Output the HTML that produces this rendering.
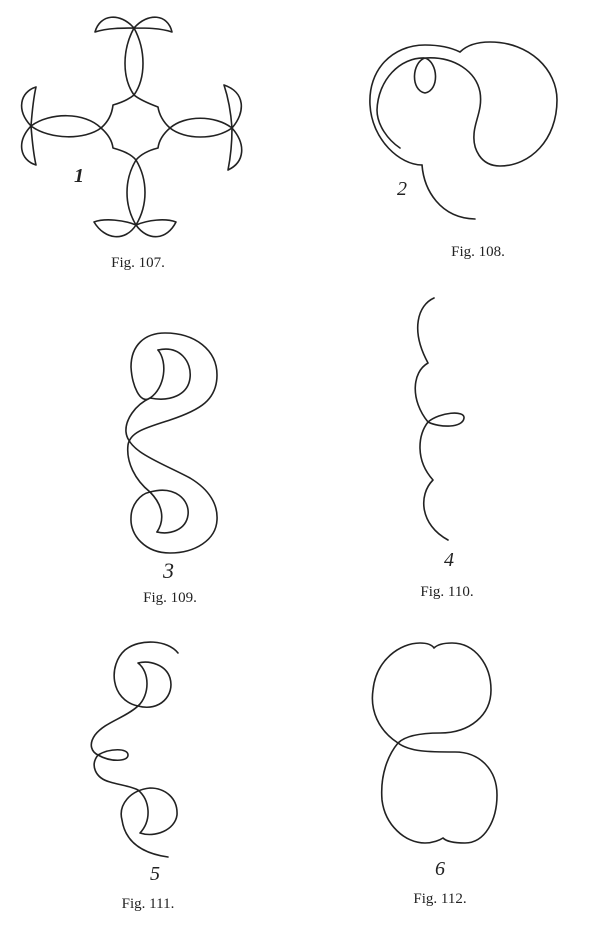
<!DOCTYPE html>
<html><head><meta charset="utf-8"><style>
html,body{margin:0;padding:0;background:#fff;}
svg{display:block;}
text{font-family:"Liberation Serif",serif;fill:#222;}
</style></head><body>
<svg width="600" height="930" viewBox="0 0 600 930" xmlns="http://www.w3.org/2000/svg">
<g fill="none" stroke="#222" stroke-width="1.6" stroke-linecap="round" stroke-linejoin="round">
<!-- Fig 107 -->
<path d="M134,28 C120,12 100,14 95,32 C108,28 122,28 134,28"/>
<path d="M134,28 C148,12 168,14 172,32 C160,28 146,28 134,28"/>
<path d="M134,28 C122,50 122,78 134,95 C146,78 146,50 134,28"/>
<path d="M136,160 C124,180 124,205 136,225 C148,205 148,180 136,160"/>
<path d="M136,225 C124,220 105,218 94,222 C105,240 125,242 136,225"/>
<path d="M136,225 C148,220 165,218 176,222 C167,240 148,242 136,225"/>
<path d="M31,126 C50,112 85,112 101,128 C85,140 50,140 31,126"/>
<path d="M31,126 C16,110 20,92 36,87 C33,100 32,113 31,126"/>
<path d="M31,126 C16,142 20,160 36,165 C33,152 32,139 31,126"/>
<path d="M170,128 C185,115 215,115 232,128 C215,140 185,140 170,128"/>
<path d="M232,128 C246,112 245,92 224,85 C229,100 231,114 232,128"/>
<path d="M232,128 C246,144 245,162 228,170 C231,155 232,140 232,128"/>
<path d="M134,95 C128,100 120,103 113,105 C112,114 108,122 101,128 C108,134 112,140 113,148 C120,150 130,153 136,160 C142,153 150,150 158,148 C159,140 163,134 170,128 C163,122 159,114 158,107 C150,104 140,100 134,95 Z"/>
<!-- Fig 108 -->
<path d="M422,165 C400,165 372,140 370,105 C368,70 392,45 425,45 C442,45 452,48 460,52 C468,44 480,42 490,42 C530,42 557,70 557,100 C557,140 530,166 500,166 C480,166 473,148 474,135 C474,122 483,110 480,92 C476,72 455,56 425,58 C412,62 410,90 425,93 C440,90 438,62 425,58 C400,57 378,80 377,110 C377,125 388,140 400,148"/>
<path d="M422,165 C424,190 440,218 475,219"/>
<!-- Fig 109 -->
<path d="M158,350 C168,362 165,388 150,398 C140,405 132,385 131,367 C131,345 145,333 165,333 C195,333 217,350 217,375 C217,400 200,410 170,420 C145,428 130,432 128,445 C126,462 135,480 150,492 C175,485 190,500 188,515 C186,530 170,535 157,532"/>
<path d="M158,350 C180,345 192,362 190,378 C188,395 170,402 150,398 C135,405 125,420 126,432 C128,452 160,462 190,478 C210,490 218,505 217,520 C216,540 195,553 170,553 C145,553 130,535 131,518 C131,505 140,494 150,492 C163,505 165,520 157,532"/>
<!-- Fig 110 -->
<path d="M434,298 C418,305 410,330 428,363 C412,372 410,400 428,422 C440,412 465,410 464,418 C463,428 440,428 428,422 C418,435 415,460 433,480 C418,495 420,525 448,540"/>
<!-- Fig 111 -->
<path d="M178,653 C168,640 140,638 125,650 C108,665 110,700 138,706 C160,712 175,695 170,678 C166,665 150,660 138,663 C150,672 150,695 138,706 C125,718 105,722 95,735 C88,745 92,752 98,755 C110,748 128,748 128,755 C128,762 110,762 98,755 C90,765 95,778 110,782 C120,785 130,786 138,790 C150,800 152,820 140,833 C155,838 175,830 177,815 C178,798 165,788 150,788 C130,790 118,805 122,820 C125,840 140,853 168,857"/>
<!-- Fig 112 -->
<path d="M398,743 C378,730 370,710 373,690 C376,660 400,643 420,643 C428,643 432,645 434,648 C438,644 445,643 452,643 C475,643 491,665 491,690 C491,715 470,733 440,733 C420,733 405,736 398,743 C388,755 380,775 382,800 C385,825 405,843 425,843 C433,843 440,840 443,838 C447,842 455,843 465,843 C485,843 497,820 497,795 C497,770 480,752 455,752 C430,752 410,752 398,743 Z"/>
</g>
<text x="74" y="182" font-size="20" font-style="italic" font-weight="bold">1</text>
<text x="397" y="195" font-size="20" font-style="italic">2</text>
<text x="163" y="578" font-size="22" font-style="italic">3</text>
<text x="444" y="566" font-size="20" font-style="italic">4</text>
<text x="150" y="880" font-size="20" font-style="italic">5</text>
<text x="435" y="875" font-size="20" font-style="italic">6</text>
<text x="138" y="267" font-size="15" text-anchor="middle">Fig. 107.</text>
<text x="478" y="256" font-size="15" text-anchor="middle">Fig. 108.</text>
<text x="170" y="602" font-size="15" text-anchor="middle">Fig. 109.</text>
<text x="447" y="596" font-size="15" text-anchor="middle">Fig. 110.</text>
<text x="148" y="908" font-size="15" text-anchor="middle">Fig. 111.</text>
<text x="440" y="903" font-size="15" text-anchor="middle">Fig. 112.</text>
</svg>
</body></html>
